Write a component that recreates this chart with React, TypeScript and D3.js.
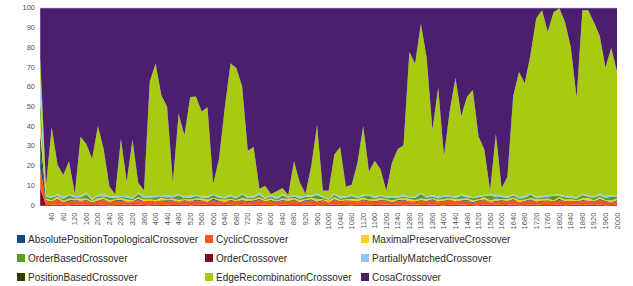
import * as d3 from "d3";

// generations sampled every 20
const generations = d3.range(0, 2001, 20);
const xTickValues = d3.range(40, 2001, 40);
const yTickValues = d3.range(0, 101, 10);

const absolutePosition = [9,
  0.2, 0.3, 0.3, 0.1, 0.4, 0.2, 0.2, 0.3, 0.1, 0.3,
  0.3, 0.2, 0.3, 0.4, 0.1, 0.2, 0.3, 0.2, 0.3, 0.1,
  0.2, 0.4, 0.2, 0.3, 0.1, 0.3, 0.2, 0.3, 0.2, 0.4,
  0.2, 0.3, 0.1, 0.3, 0.2, 0.2, 0.4, 0.3, 0.1, 0.3,
  0.3, 0.2, 0.3, 0.1, 0.2, 0.4, 0.2, 0.3, 0.3, 0.1,
  0.3, 0.2, 0.3, 0.2, 0.1, 0.4, 0.2, 0.3, 0.3, 0.2,
  0.1, 0.3, 0.3, 0.2, 0.2, 0.4, 0.1, 0.3, 0.2, 0.3,
  0.2, 0.1, 0.3, 0.2, 0.3, 0.4, 0.2, 0.1, 0.3, 0.3,
  0.2, 0.3, 0.1, 0.3, 0.2, 0.2, 0.4, 0.1, 0.3, 0.2,
  0.3, 0.2, 0.1, 0.2, 0.3, 0.3, 0.4, 0.2, 0.1, 0.3];

const cyclic = [10,
  2.1, 1.4, 2.6, 1.2, 1.8, 2.3, 1.5, 2.0, 1.1, 1.9,
  2.4, 1.3, 1.7, 2.2, 1.0, 1.6, 2.5, 1.4, 1.8, 1.2,
  2.0, 1.5, 2.3, 1.1, 1.9, 1.4, 2.2, 1.6, 1.3, 2.4,
  1.7, 1.2, 2.0, 1.5, 2.3, 1.0, 1.8, 2.6, 1.4, 1.9,
  1.3, 2.1, 1.6, 2.4, 1.1, 1.7, 2.2, 1.5, 1.9, 1.2,
  2.3, 1.4, 1.8, 2.0, 1.2, 2.5, 1.6, 1.3, 2.1, 1.7,
  1.1, 1.9, 2.4, 1.5, 1.2, 2.0, 1.6, 2.2, 1.3, 1.8,
  2.5, 1.4, 1.7, 2.1, 1.0, 1.9, 2.3, 1.5, 1.2, 2.0,
  1.6, 2.4, 1.3, 1.8, 2.2, 1.1, 1.7, 2.0, 1.4, 2.3,
  1.5, 1.9, 1.2, 2.1, 1.6, 1.3, 2.4, 1.7, 1.1, 1.8];

const maximalPreservative = [8,
  0.8, 0.5, 1.1, 0.6, 0.9, 0.4, 1.0, 0.7, 0.5, 1.2,
  0.6, 0.9, 0.4, 0.8, 1.1, 0.5, 0.7, 1.0, 0.6, 0.8,
  1.2, 0.5, 0.7, 0.9, 0.4, 1.0, 0.6, 0.8, 1.1, 0.5,
  0.7, 1.0, 0.6, 0.4, 0.9, 1.2, 0.5, 0.8, 0.6, 1.0,
  0.4, 0.8, 1.1, 0.6, 0.9, 0.5, 0.7, 1.2, 0.4, 0.8,
  1.0, 0.6, 0.5, 0.9, 1.1, 0.7, 0.4, 0.8, 1.0, 0.6,
  0.9, 0.5, 0.7, 1.2, 0.6, 0.8, 1.0, 0.4, 0.9, 0.7,
  0.5, 1.1, 0.8, 0.6, 0.9, 0.4, 1.0, 0.7, 1.2, 0.5,
  0.8, 0.6, 1.0, 0.5, 0.7, 1.1, 0.6, 0.9, 0.4, 0.8,
  1.0, 0.7, 0.5, 0.9, 1.2, 0.6, 0.8, 0.4, 1.0, 0.7];

const orderBased = [9,
  0.7, 1.2, 0.5, 0.9, 1.6, 0.6, 0.8, 2.2, 0.5, 1.0,
  0.6, 1.3, 0.8, 0.5, 1.1, 0.7, 1.8, 0.6, 0.9, 1.4,
  0.5, 1.0, 0.7, 2.4, 0.6, 0.9, 1.2, 0.5, 0.8, 1.5,
  0.7, 0.6, 1.1, 0.9, 2.0, 0.5, 0.8, 1.3, 0.6, 1.0,
  0.8, 1.6, 0.5, 0.9, 0.7, 1.2, 0.6, 2.1, 0.8, 0.5,
  1.1, 0.7, 0.9, 1.4, 0.6, 0.8, 1.9, 0.5, 1.0, 0.7,
  1.3, 0.6, 0.8, 0.5, 1.1, 2.3, 0.7, 0.9, 0.6, 1.2,
  0.8, 0.5, 1.5, 0.7, 0.9, 1.1, 0.6, 2.6, 0.8, 1.0,
  0.5, 1.2, 0.7, 0.9, 1.8, 0.6, 1.0, 0.8, 2.4, 0.7,
  1.1, 0.6, 0.9, 1.7, 0.5, 1.3, 0.8, 1.0, 2.0, 0.9];

const order = [9,
  0.4, 0.3, 0.6, 0.3, 0.2, 0.5, 0.6, 0.3, 0.4, 0.3,
  0.6, 0.2, 0.4, 0.3, 0.6, 0.3, 0.5, 0.4, 0.2, 0.6,
  0.3, 0.5, 0.3, 0.4, 0.6, 0.2, 0.3, 0.6, 0.4, 0.3,
  0.5, 0.3, 0.6, 0.2, 0.4, 0.6, 0.3, 0.3, 0.5, 0.4,
  0.2, 0.6, 0.3, 0.4, 0.3, 0.6, 0.5, 0.2, 0.4, 0.3,
  0.6, 0.3, 0.4, 0.2, 0.5, 0.3, 0.6, 0.4, 0.3, 0.6,
  0.3, 0.5, 0.2, 0.4, 0.6, 0.3, 0.3, 0.6, 0.4, 0.2,
  0.5, 0.3, 0.6, 0.3, 0.4, 0.2, 0.6, 0.3, 0.5, 0.3,
  0.4, 0.6, 0.2, 0.3, 0.5, 0.6, 0.3, 0.4, 0.3, 0.6,
  0.2, 0.4, 0.5, 0.3, 0.6, 0.3, 0.6, 0.2, 0.4, 0.5];

const partiallyMatched = [10,
  0.9, 0.5, 0.7, 1.1, 0.4, 0.8, 0.6, 1.0, 0.5, 0.7,
  1.2, 0.6, 0.8, 0.4, 0.9, 0.7, 0.5, 1.1, 0.6, 0.8,
  0.4, 1.0, 0.6, 0.8, 0.5, 1.2, 0.7, 0.4, 0.9, 0.6,
  0.8, 0.5, 1.0, 0.7, 0.4, 0.9, 0.6, 1.1, 0.5, 0.7,
  1.0, 0.6, 0.4, 0.8, 1.2, 0.5, 0.7, 0.9, 0.6, 0.4,
  0.7, 1.1, 0.5, 0.8, 0.6, 0.9, 0.4, 1.0, 0.7, 0.5,
  0.8, 0.6, 1.2, 0.4, 0.9, 0.7, 0.5, 0.8, 1.1, 0.6,
  0.4, 0.9, 0.6, 1.0, 0.5, 0.8, 0.7, 0.4, 1.2, 0.6,
  0.9, 0.5, 0.7, 1.1, 0.4, 0.8, 0.6, 1.0, 0.5, 0.9,
  0.6, 1.2, 0.4, 0.7, 0.9, 0.5, 0.8, 1.1, 0.6, 0.4];

const positionBased = [9,
  0.2, 0.3, 0.1, 0.3, 0.4, 0.2, 0.2, 0.4, 0.3, 0.1,
  0.3, 0.2, 0.4, 0.2, 0.3, 0.1, 0.4, 0.2, 0.3, 0.2,
  0.3, 0.4, 0.1, 0.2, 0.3, 0.2, 0.4, 0.3, 0.1, 0.4,
  0.2, 0.2, 0.3, 0.3, 0.1, 0.4, 0.2, 0.4, 0.2, 0.3,
  0.3, 0.1, 0.2, 0.4, 0.3, 0.2, 0.4, 0.2, 0.3, 0.1,
  0.3, 0.4, 0.2, 0.2, 0.3, 0.1, 0.3, 0.4, 0.2, 0.2,
  0.4, 0.2, 0.3, 0.1, 0.3, 0.2, 0.4, 0.3, 0.2, 0.4,
  0.1, 0.3, 0.2, 0.4, 0.2, 0.3, 0.2, 0.1, 0.4, 0.3,
  0.2, 0.3, 0.3, 0.1, 0.4, 0.2, 0.2, 0.3, 0.3, 0.4,
  0.2, 0.1, 0.4, 0.3, 0.2, 0.3, 0.2, 0.4, 0.1, 0.3];

const edgeRecombination = [11,
  5, 35, 15, 11, 17, 1, 30, 25, 20, 35,
  23, 5, 1, 29, 7, 29, 5, 3, 58, 67,
  51, 45, 7, 41, 31, 50, 50, 43, 45, 5,
  19, 45, 67, 65, 55, 23, 25, 2, 6, 0.5,
  3, 3, 1, 17, 7, 1, 15, 35, 3, 4,
  20, 25, 5, 5, 17, 35, 12, 18, 13, 3,
  17, 24, 25, 73, 67, 87, 70, 33, 55, 20,
  43, 60, 40, 50, 54, 30, 23, 2, 31, 4,
  10, 50, 63, 57, 71, 90, 94, 83, 93, 95,
  88, 75, 50, 94, 94, 88, 81, 65, 75, 63];

const cosa = [25,
  90, 60, 80, 84, 78, 95, 65, 70, 75, 60,
  72, 90, 94, 66, 88, 66, 90, 92, 37, 28,
  44, 50, 88, 54, 64, 45, 45, 52, 50, 90,
  76, 50, 28, 30, 40, 72, 70, 93, 89, 96,
  92, 92, 95, 78, 88, 94, 80, 60, 92, 91,
  75, 70, 90, 90, 78, 60, 83, 77, 82, 92,
  78, 71, 70, 22, 28, 8, 25, 62, 40, 75,
  52, 35, 55, 45, 41, 65, 72, 93, 64, 91,
  85, 45, 32, 38, 24, 5, 1, 12, 2, 0,
  7, 20, 45, 1, 1, 7, 14, 30, 20, 32];

const seriesNames = [
  "AbsolutePositionTopologicalCrossover",
  "CyclicCrossover",
  "MaximalPreservativeCrossover",
  "OrderBasedCrossover",
  "OrderCrossover",
  "PartiallyMatchedCrossover",
  "PositionBasedCrossover",
  "EdgeRecombinationCrossover",
  "CosaCrossover",
];
const seriesValues = [
  absolutePosition, cyclic, maximalPreservative, orderBased, order,
  partiallyMatched, positionBased, edgeRecombination, cosa,
];
const seriesColors = [
  "#0e4a8a", "#ff5519", "#ffcc22", "#5a9e2a", "#7e0a26",
  "#8ccaf2", "#2f3d0c", "#a8cb12", "#4b1f6e",
];
// bottom-to-top order of the stacked layers
const stackOrder = [
  "OrderCrossover", "CyclicCrossover", "AbsolutePositionTopologicalCrossover",
  "PositionBasedCrossover", "MaximalPreservativeCrossover", "OrderBasedCrossover",
  "PartiallyMatchedCrossover", "EdgeRecombinationCrossover", "CosaCrossover",
];

export default function App() {
  const width = 633;
  const height = 286;
  const plot = { left: 40.2, right: 617, top: 8.3, bottom: 205.7 };

  const x = d3.scaleLinear().domain([0, 2000]).range([plot.left, plot.right]);
  const y = d3.scaleLinear().domain([0, 100]).range([plot.bottom, plot.top]);

  const table = generations.map((g, i) => {
    const row: any = { gen: g };
    seriesNames.forEach((n, k) => (row[n] = seriesValues[k][i]));
    return row;
  });
  const layers = d3.stack().keys(stackOrder).offset(d3.stackOffsetExpand)(table);
  const area = d3
    .area<any>()
    .x((d) => x(d.data.gen))
    .y0((d) => y(d[0] * 100))
    .y1((d) => y(d[1] * 100))
    .curve(d3.curveLinear);

  const legendCols = [17, 205, 361];
  const legendRows = [235, 254, 273];
  const font = "'Liberation Sans', Arial, sans-serif";
  const colorOf = (name: string) => seriesColors[seriesNames.indexOf(name)];

  return (
    <svg
      width={width}
      height={height}
      style={{ position: "absolute", left: 0, top: 0, background: "#fff" }}
    >
      <line x1={plot.left} x2={plot.right} y1={plot.top} y2={plot.top} stroke="#e8d0ea" strokeWidth={1.5} />
      <g>
        {layers.map((layer) => (
          <path key={layer.key} d={area(layer) ?? ""} fill={colorOf(layer.key)} stroke="none" />
        ))}
      </g>
      <g fontFamily={font} fontSize={7.5} fill="#555">
        {yTickValues.map((t) => (
          <text key={t} x={35} y={y(t)} textAnchor="end" dominantBaseline="middle">
            {t}
          </text>
        ))}
        {xTickValues.map((t) => (
          <text
            key={t}
            transform={`translate(${x(t) + 2.5},${plot.bottom + 7}) rotate(-90)`}
            textAnchor="end"
          >
            {t}
          </text>
        ))}
      </g>
      <g fontFamily={font} fontSize={10} fill="#2a2a2a">
        {seriesNames.map((name, i) => {
          const col = legendCols[i % 3];
          const row = legendRows[Math.floor(i / 3)];
          return (
            <g key={name}>
              <rect x={col} y={row} width={8} height={8} fill={seriesColors[i]} />
              <text x={col + 11} y={row + 8}>
                {name}
              </text>
            </g>
          );
        })}
      </g>
    </svg>
  );
}
